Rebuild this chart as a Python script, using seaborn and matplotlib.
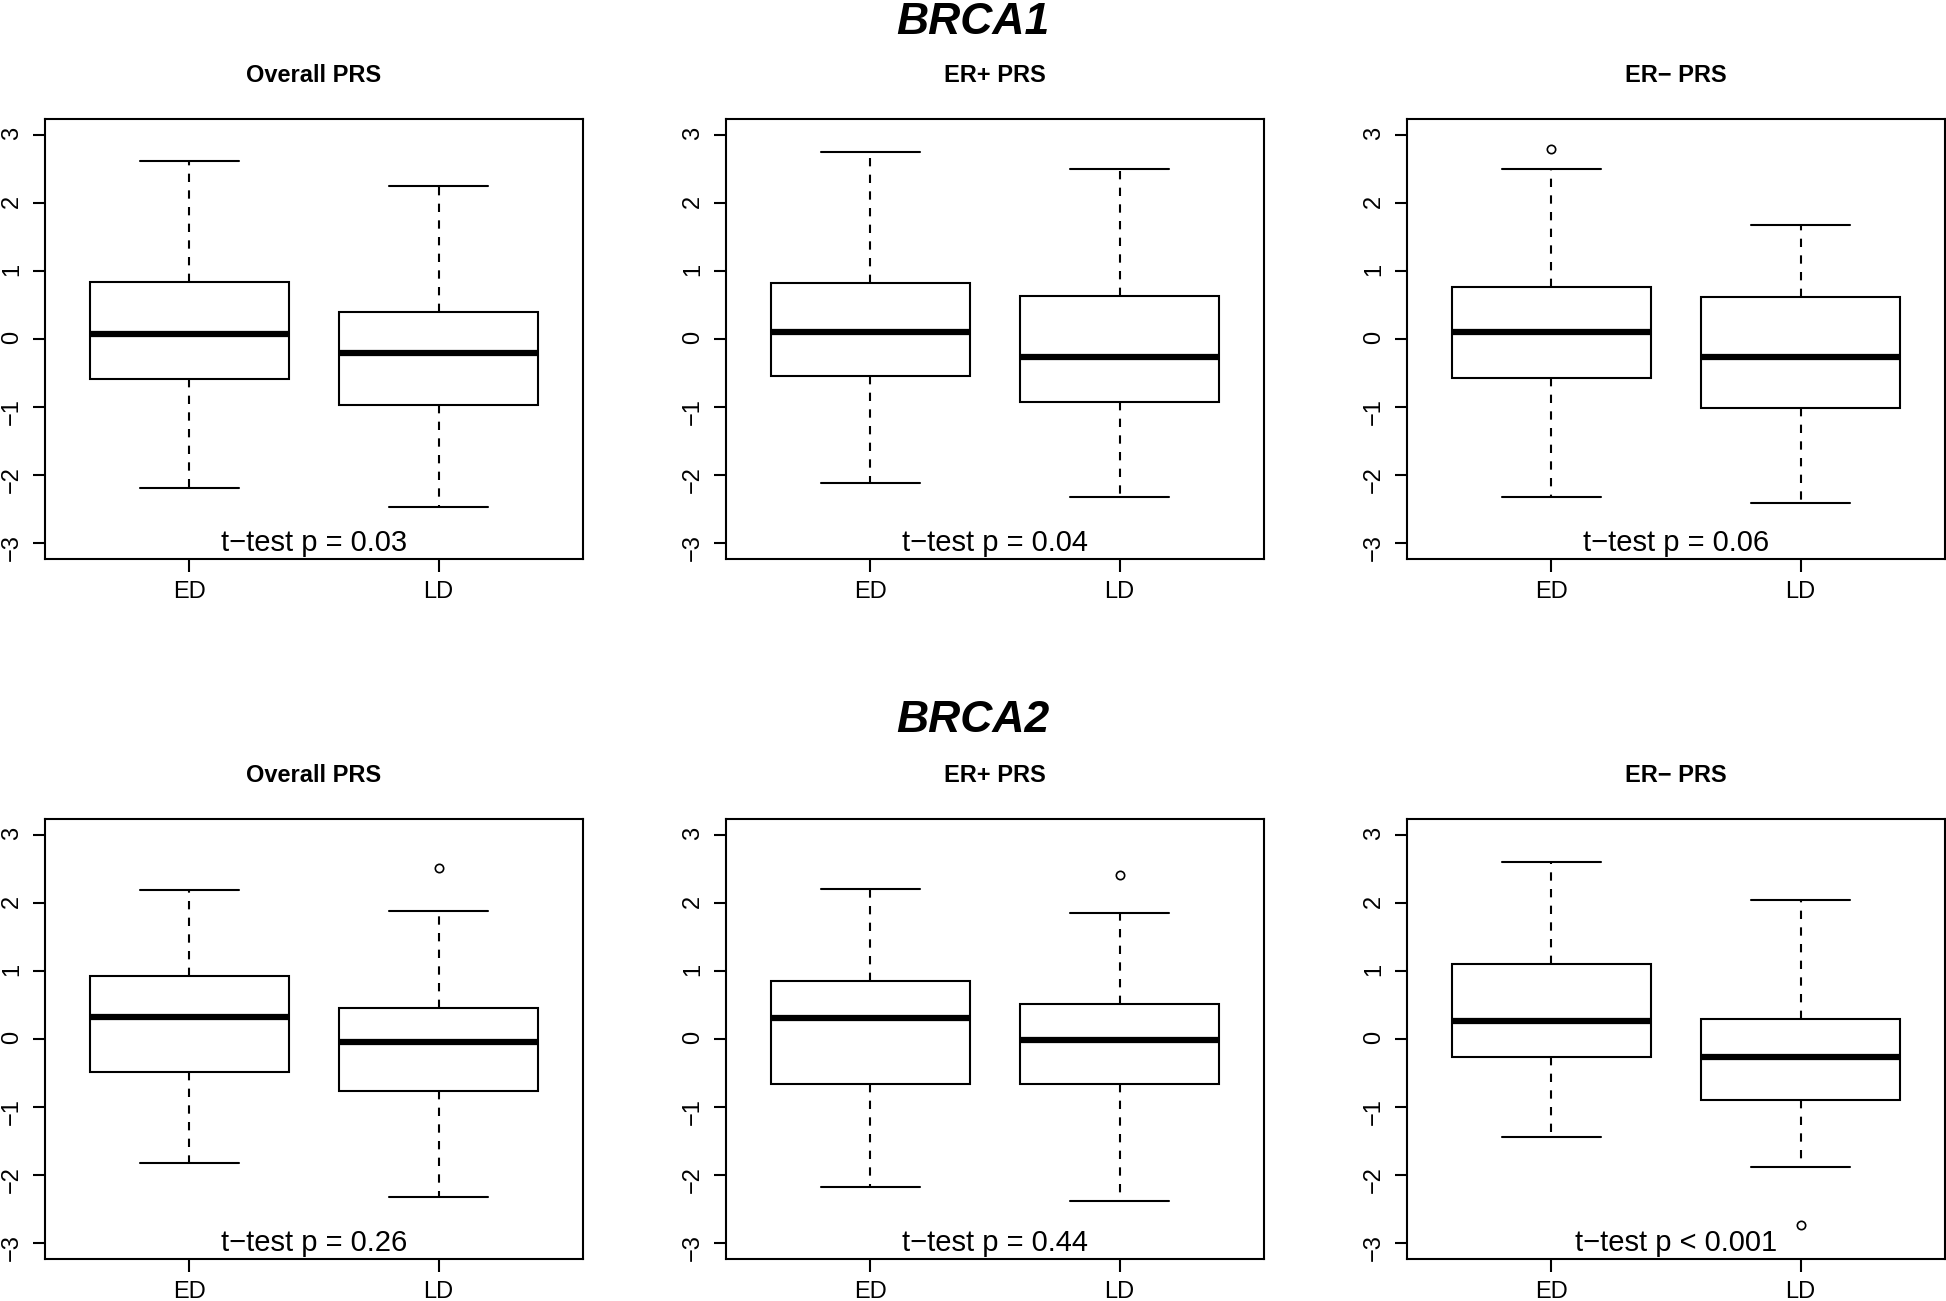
import matplotlib.pyplot as plt
import pandas as pd
import seaborn as sns

groups = ['ED', 'LD']
panel_titles = ['Overall PRS', 'ER+ PRS', 'ER\u2212 PRS']
genes = ['BRCA1', 'BRCA2']

# five-number summaries:
# lower whisker, Q1, median, Q3, upper whisker
brca1_ed = [[-2.19, -0.59, 0.07, 0.84, 2.62],
            [-2.12, -0.55, 0.11, 0.82, 2.76],
            [-2.32, -0.57, 0.11, 0.77, 2.51]]
brca1_ld = [[-2.47, -0.97, -0.20, 0.40, 2.25],
            [-2.32, -0.93, -0.27, 0.64, 2.51],
            [-2.41, -1.01, -0.26, 0.62, 1.68]]
brca2_ed = [[-1.83, -0.49, 0.33, 0.93, 2.19],
            [-2.18, -0.66, 0.31, 0.86, 2.21],
            [-1.45, -0.26, 0.27, 1.10, 2.60]]
brca2_ld = [[-2.32, -0.77, -0.04, 0.46, 1.88],
            [-2.38, -0.66, -0.02, 0.51, 1.85],
            [-1.88, -0.90, -0.26, 0.29, 2.05]]

# outliers: (panel index, group, value)
brca1_outliers = [(2, 'ED', 2.80)]
brca2_outliers = [(0, 'LD', 2.52), (1, 'LD', 2.41), (2, 'LD', -2.74)]

brca1_pvals = ['p = 0.03', 'p = 0.04', 'p = 0.06']
brca2_pvals = ['p = 0.26', 'p = 0.44', 'p < 0.001']

sns.set_style('ticks')
plt.rcParams['font.family'] = ['Liberation Sans', 'DejaVu Sans']
plt.rcParams['text.color'] = 'black'
plt.rcParams['axes.labelcolor'] = 'black'

rows = []
outs = []
for gene, ed, ld, out in [('BRCA1', brca1_ed, brca1_ld, brca1_outliers),
                          ('BRCA2', brca2_ed, brca2_ld, brca2_outliers)]:
    for i, title in enumerate(panel_titles):
        for g, stats in zip(groups, (ed[i], ld[i])):
            for v in stats:
                rows.append({'gene': gene, 'panel': title, 'group': g, 'value': v})
    for i, g, v in out:
        outs.append({'gene': gene, 'panel': panel_titles[i], 'group': g, 'value': v})
df = pd.DataFrame(rows)
df_out = pd.DataFrame(outs)
pvals = {'BRCA1': brca1_pvals, 'BRCA2': brca2_pvals}

W, H = 1946, 1301
fig = plt.figure(figsize=(W / 100, H / 100), dpi=100)

col_left = [45, 726, 1407]
row_top = [119, 819]
ax_w, ax_h = 538, 440

for r, gene in enumerate(genes):
    for c, title in enumerate(panel_titles):
        ax = fig.add_axes([col_left[c] / W, 1 - (row_top[r] + ax_h) / H, ax_w / W, ax_h / H])
        sub = df[(df['gene'] == gene) & (df['panel'] == title)]
        sns.boxplot(data=sub, x='group', y='value', order=groups, whis=(0, 100),
                    width=0.8, color='white', linecolor='black', linewidth=1.5,
                    fliersize=0, ax=ax,
                    medianprops={'linewidth': 4.5, 'solid_capstyle': 'butt'},
                    whiskerprops={'linestyle': (0, (4, 4))},
                    capprops={'linestyle': '-'})
        o = df_out[(df_out['gene'] == gene) & (df_out['panel'] == title)]
        if len(o):
            sns.stripplot(data=o, x='group', y='value', order=groups, jitter=False,
                          color='white', edgecolor='black', linewidth=1.2, size=6, ax=ax)
        ax.text(0.5, -3, 't\u2212test ' + pvals[gene][c], ha='center', va='center', fontsize=21)
        ax.set_xlim(-0.58, 1.58)
        ax.set_ylim(-3.24, 3.24)
        ax.set_yticks(range(-3, 4))
        ax.set_xlabel('')
        ax.set_ylabel('')
        ax.tick_params(axis='both', direction='out', length=9, width=1.5,
                       labelsize=17, color='black', labelcolor='black')
        ax.tick_params(axis='y', labelrotation=90, pad=7)
        ax.tick_params(axis='x', pad=7)
        for s in ax.spines.values():
            s.set_linewidth(1.5)
            s.set_color('black')
        ax.set_title(title, fontsize=17, fontweight='bold', pad=27)

fig.text(0.5, 0.983, 'BRCA1', ha='center', va='center', fontsize=32,
         fontweight='bold', fontstyle='italic')
fig.text(0.5, 0.446, 'BRCA2', ha='center', va='center', fontsize=32,
         fontweight='bold', fontstyle='italic')

fig.savefig('out.png', dpi=100)
